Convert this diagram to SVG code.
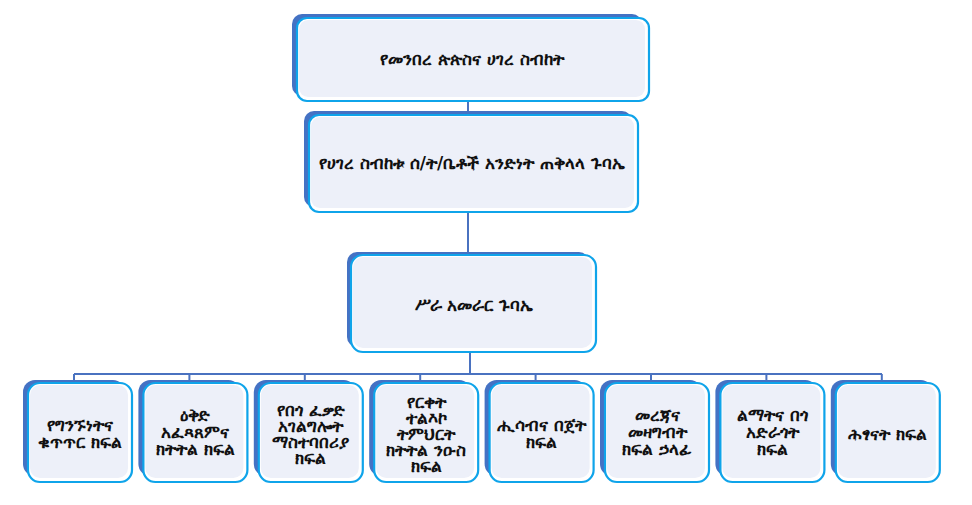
<svg xmlns="http://www.w3.org/2000/svg" width="972" height="505" viewBox="0 0 972 505">
<style>
.back{fill:#4472c4}
.front{fill:#ffffff;stroke:#0fa4ea;stroke-width:2.2}
.inner{fill:#edf0f9}
.conn{stroke:#4a72c0;stroke-width:2;fill:none}
text{font-family:"DejaVu Sans","Noto Sans",sans-serif;font-weight:bold;font-size:17px;fill:#111;text-anchor:middle}
</style>
<rect width="972" height="505" fill="#ffffff"/>
<g id="connectors">
<path class="conn" d="M468 96V114M468 210V254M470 352V374M74 374H882"/>
<path class="conn" d="M74 374V381M189.4 374V381M304.8 374V381M420.2 374V381M535.6 374V381M651 374V381M766.4 374V381M881.8 374V381"/>
</g>
<g id="n1">
<rect class="back" x="292" y="14" width="350" height="82" rx="10"/>
<rect class="front" x="297" y="18" width="352" height="83" rx="10"/>
<rect class="inner" x="299" y="20" width="346" height="77" rx="9"/>
<text x="472" y="65">የመንበረ ጵጵስና ሀገረ ስብከት</text>
</g>
<g id="n2">
<rect class="back" x="304" y="111" width="328" height="96" rx="10"/>
<rect class="front" x="309" y="115" width="329" height="97" rx="10"/>
<rect class="inner" x="311" y="117" width="323" height="91" rx="9"/>
<text x="472" y="169">የሀገረ ስብከቱ ሰ/ት/ቤቶች አንድነት ጠቅላላ ጉባኤ</text>
</g>
<g id="n3">
<rect class="back" x="347" y="252" width="242" height="95" rx="10"/>
<rect class="front" x="351" y="255" width="245" height="97" rx="12"/>
<rect class="inner" x="353" y="257" width="239" height="91" rx="10"/>
<text x="474" y="311">ሥራ አመራር ጉባኤ</text>
</g>
<g id="b1">
<rect class="back" x="23" y="380" width="102" height="96" rx="12"/>
<rect class="front" x="28" y="383" width="104" height="99" rx="12"/>
<rect class="inner" x="30" y="385" width="98" height="93" rx="10"/>
<text x="80" y="431">የግንኙነትና<tspan x="80" dy="17">ቁጥጥር ክፍል</tspan></text>
</g>
<g id="b2">
<rect class="back" x="138.4" y="380" width="102" height="96" rx="12"/>
<rect class="front" x="143.4" y="383" width="104" height="99" rx="12"/>
<rect class="inner" x="145.4" y="385" width="98" height="93" rx="10"/>
<text x="195.4" y="421">ዕቅድ<tspan x="195.4" dy="17">አፈጻጸምና</tspan><tspan x="195.4" dy="17">ክትትል ክፍል</tspan></text>
</g>
<g id="b3">
<rect class="back" x="253.8" y="380" width="102" height="96" rx="12"/>
<rect class="front" x="258.8" y="383" width="104" height="99" rx="12"/>
<rect class="inner" x="260.8" y="385" width="98" height="93" rx="10"/>
<text x="310.8" y="416">የበጎ ፈቃድ<tspan x="310.8" dy="16">አገልግሎት</tspan><tspan x="310.8" dy="16">ማስተባበሪያ</tspan><tspan x="310.8" dy="16">ክፍል</tspan></text>
</g>
<g id="b4">
<rect class="back" x="369.2" y="380" width="102" height="96" rx="12"/>
<rect class="front" x="374.2" y="383" width="104" height="99" rx="12"/>
<rect class="inner" x="376.2" y="385" width="98" height="93" rx="10"/>
<text x="426.2" y="408">የርቀት<tspan x="426.2" dy="16">ተልእኮ</tspan><tspan x="426.2" dy="16">ትምህርት</tspan><tspan x="426.2" dy="16">ክትትል ንዑስ</tspan><tspan x="426.2" dy="16">ክፍል</tspan></text>
</g>
<g id="b5">
<rect class="back" x="484.6" y="380" width="102" height="96" rx="12"/>
<rect class="front" x="489.6" y="383" width="104" height="99" rx="12"/>
<rect class="inner" x="491.6" y="385" width="98" height="93" rx="10"/>
<text x="541.6" y="431">ሒሳብና በጀት<tspan x="541.6" dy="17">ክፍል</tspan></text>
</g>
<g id="b6">
<rect class="back" x="600" y="380" width="102" height="96" rx="12"/>
<rect class="front" x="605" y="383" width="104" height="99" rx="12"/>
<rect class="inner" x="607" y="385" width="98" height="93" rx="10"/>
<text x="657" y="421">መረጃና<tspan x="657" dy="17">መዛግብት</tspan><tspan x="657" dy="17">ክፍል ኃላፊ</tspan></text>
</g>
<g id="b7">
<rect class="back" x="715.4" y="380" width="102" height="96" rx="12"/>
<rect class="front" x="720.4" y="383" width="104" height="99" rx="12"/>
<rect class="inner" x="722.4" y="385" width="98" height="93" rx="10"/>
<text x="772.4" y="421">ልማትና በጎ<tspan x="772.4" dy="17">አድራጎት</tspan><tspan x="772.4" dy="17">ክፍል</tspan></text>
</g>
<g id="b8">
<rect class="back" x="830.8" y="380" width="102" height="96" rx="12"/>
<rect class="front" x="835.8" y="383" width="104" height="99" rx="12"/>
<rect class="inner" x="837.8" y="385" width="98" height="93" rx="10"/>
<text x="887.8" y="440">ሕፃናት ክፍል</text>
</g>
</svg>
